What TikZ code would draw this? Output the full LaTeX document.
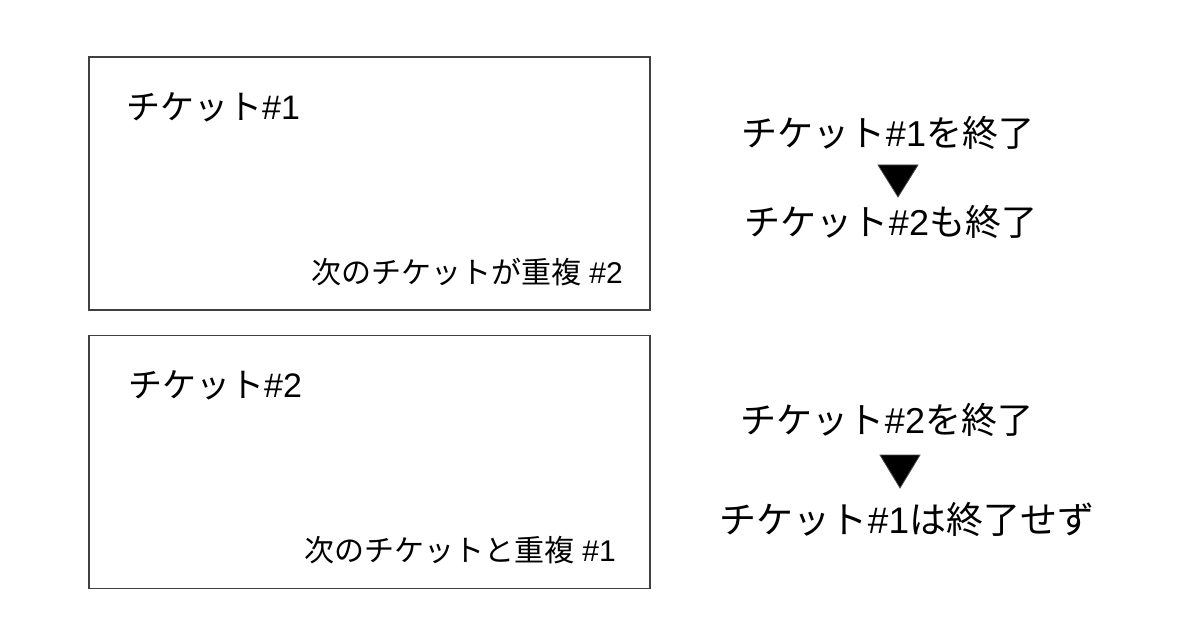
\documentclass[tikz,border=0pt]{standalone}
\usepackage{fontspec}
\newfontfamily\jp{Noto Sans CJK JP}
\newfontfamily\lat{Liberation Sans}
\tikzset{
  box/.style={draw=black!75, line width=1.6pt, minimum width=561pt, minimum height=253pt, inner sep=0pt},
  big/.style={inner sep=0pt, font=\jp\fontsize{36}{36}\selectfont},
  title/.style={inner sep=0pt, font=\jp\fontsize{34}{34}\selectfont},
  small/.style={inner sep=0pt, font=\jp\fontsize{30}{30}\selectfont},
  tri/.style={fill=black, draw=black!70, line width=0.8pt}
}
\newcommand{\lt}[1]{{\lat #1}}
\begin{document}
\begin{tikzpicture}[x=1pt,y=-1pt]
\useasboundingbox (0,0) rectangle (1200,620);
\node[box] (b1) at (369.5,183.5) {};
\node[box] (b2) at (369.5,462) {};
\node[title, anchor=west] (t1) at (126,107) {チケット\lt{\#1}};
\node[title, anchor=west] (t2) at (128,385) {チケット\lt{\#2}};
\node[small, anchor=east] (s1) at (623,272) {次のチケットが重複\lt{ \#2}};
\node[small, anchor=east] (s2) at (616,550) {次のチケットと重複\lt{ \#1}};
\node[big] (r1) at (888,133) {チケット\lt{\#1}を終了};
\node[big] (r2) at (891,222) {チケット\lt{\#2}も終了};
\node[big] (r3) at (887,420) {チケット\lt{\#2}を終了};
\node[big, font=\jp\fontsize{37}{37}\selectfont] (r4) at (907,520) {チケット\lt{\#1}は終了せず};
\coordinate (a1) at (898,165);
\coordinate (a2) at (900,455);
\fill[tri] (a1) ++(-20,0) -- ++(40,0) -- ++(-20,32) -- cycle;
\fill[tri] (a2) ++(-20,0) -- ++(40,0) -- ++(-20,33) -- cycle;
\end{tikzpicture}
\end{document}
